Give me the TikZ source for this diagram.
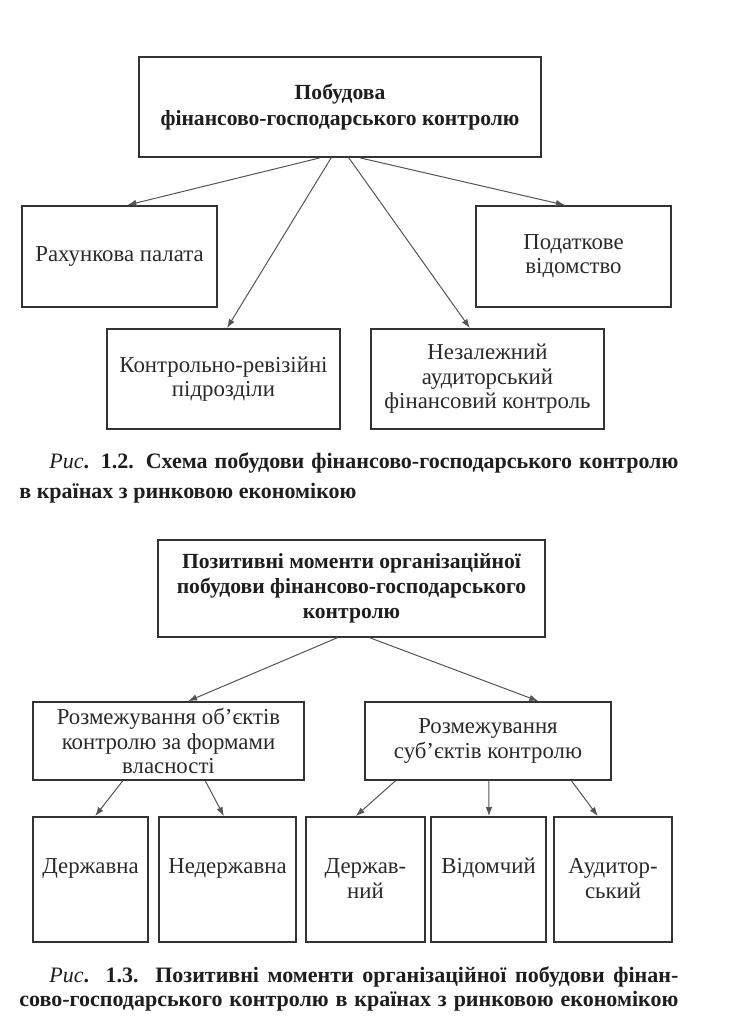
\documentclass[tikz,border=0pt]{standalone}
\usepackage{fontspec}
\setmainfont{Liberation Serif}
\usetikzlibrary{arrows.meta,calc}
\definecolor{boxc}{HTML}{333333}
\definecolor{arrc}{HTML}{555555}
\definecolor{txtc}{HTML}{2a2a2a}
\definecolor{capc}{HTML}{1e1e1e}
\begin{document}
\begin{tikzpicture}[x=0.5pt,y=-0.5pt,
  box/.style={draw=boxc, line width=0.9pt, inner sep=0pt, align=center,
    font=\fontsize{11.4}{12.2}\selectfont, text=txtc},
  hbox/.style={box, font=\fontsize{10.8}{12.6}\selectfont\bfseries, text=capc},
  lbl/.style={inner sep=0pt, align=center, font=\fontsize{11.4}{12.5}\selectfont, text=txtc},
  captext/.style={inner sep=0pt, font=\fontsize{11}{13}\selectfont\bfseries, text=capc},
  arr/.style={draw=arrc, line width=0.5pt, -{Latex[length=4.5pt,width=3.2pt]}}]
\useasboundingbox (0,0) rectangle (729,1029);
\fill[white] (0,0) rectangle (729,1029);

% ---------- Fig 1.2 ----------
\node[hbox, minimum width=201pt, minimum height=50pt] (top1) at (340,107)
  {Побудова\\фінансово-господарського контролю};
\node[box, minimum width=97.5pt, minimum height=50.5pt] (rax) at (119.5,256.5)
  {Рахункова палата};
\node[box, minimum width=97.5pt, minimum height=50.5pt] (pod) at (573.5,256.5)
  {Податкове\\відомство};
\node[box, minimum width=116.5pt, minimum height=50pt] (kr) at (223.5,379)
  {Контрольно-ревізійні\\підрозділи};
\node[box, minimum width=116.5pt, minimum height=50pt] (nez) at (487.5,379)
  {Незалежний\\аудиторський\\фінансовий контроль};

\draw[arr] ($(top1.south west)!0.45!(top1.south east)$) -- ($(rax.north west)!0.54!(rax.north east)$);
\draw[arr] ($(top1.south west)!0.478!(top1.south east)$) -- ($(kr.north west)!0.515!(kr.north east)$);
\draw[arr] ($(top1.south west)!0.522!(top1.south east)$) -- ($(nez.north west)!0.425!(nez.north east)$);
\draw[arr] ($(top1.south west)!0.55!(top1.south east)$) -- ($(pod.north west)!0.456!(pod.north east)$);

\node[captext, anchor=base west] (cap1a) at (49,468)
  {\makebox[314.5pt][s]{{\mdseries\itshape Рис}. 1.2. Схема побудови фінансово-господарського контролю}};
\node[captext, anchor=base west] (cap1b) at (19,498)
  {в країнах з ринковою економікою};

% ---------- Fig 1.3 ----------
\node[hbox, minimum width=193.5pt, minimum height=48.5pt] (top2) at (351.5,588.5)
  {Позитивні моменти організаційної\\побудови фінансово-господарського\\контролю};
\node[box, minimum width=135.5pt, minimum height=39pt] (ls) at (168.5,741)
  {Розмежування об’єктів\\контролю за формами\\власності};
\node[box, minimum width=123pt, minimum height=39pt] (rs) at (488,741)
  {Розмежування\\суб’єктів контролю};

\node[box, minimum width=57.5pt, minimum height=62.5pt] (b1) at (90.5,879.5) {};
\node[box, minimum width=68.5pt, minimum height=62.5pt] (b2) at (227.5,879.5) {};
\node[box, minimum width=59.5pt, minimum height=62.5pt] (b3) at (365.5,879.5) {};
\node[box, minimum width=57.5pt, minimum height=62.5pt] (b4) at (488.5,879.5) {};
\node[box, minimum width=59pt, minimum height=62.5pt] (b5) at (613,879.5) {};

\node[lbl, anchor=base] (t1) at (b1.center |- 0,873) {Державна};
\node[lbl, anchor=base] (t2) at (b2.center |- 0,873) {Недержавна};
\node[lbl, anchor=north] (t3) at (b3.center |- 0,858) {Держав-\\ний};
\node[lbl, anchor=base] (t4) at (b4.center |- 0,873) {Відомчий};
\node[lbl, anchor=north] (t5) at (b5.center |- 0,858) {Аудитор-\\ський};

\draw[arr] ($(top2.south west)!0.4625!(top2.south east)$) -- ($(ls.north west)!0.572!(ls.north east)$);
\draw[arr] ($(top2.south west)!0.548!(top2.south east)$) -- ($(rs.north west)!0.703!(rs.north east)$);

\draw[arr] ($(ls.south west)!0.332!(ls.south east)$) -- ($(b1.north west)!0.54!(b1.north east)$);
\draw[arr] ($(ls.south west)!0.635!(ls.south east)$) -- ($(b2.north west)!0.474!(b2.north east)$);
\draw[arr] ($(rs.south west)!0.126!(rs.south east)$) -- ($(b3.north west)!0.42!(b3.north east)$);
\draw[arr] ($(rs.south west)!0.504!(rs.south east)$) -- ($(b4.north west)!0.504!(b4.north east)$);
\draw[arr] ($(rs.south west)!0.837!(rs.south east)$) -- ($(b5.north west)!0.373!(b5.north east)$);

\node[captext, anchor=base west] (cap2a) at (49,982)
  {\makebox[314.5pt][s]{{\mdseries\itshape Рис}. 1.3. Позитивні моменти організаційної побудови фінан-}};
\node[captext, anchor=base west] (cap2b) at (19,1006)
  {\makebox[329.5pt][s]{сово-господарського контролю в країнах з ринковою економікою}};
\end{tikzpicture}
\end{document}
